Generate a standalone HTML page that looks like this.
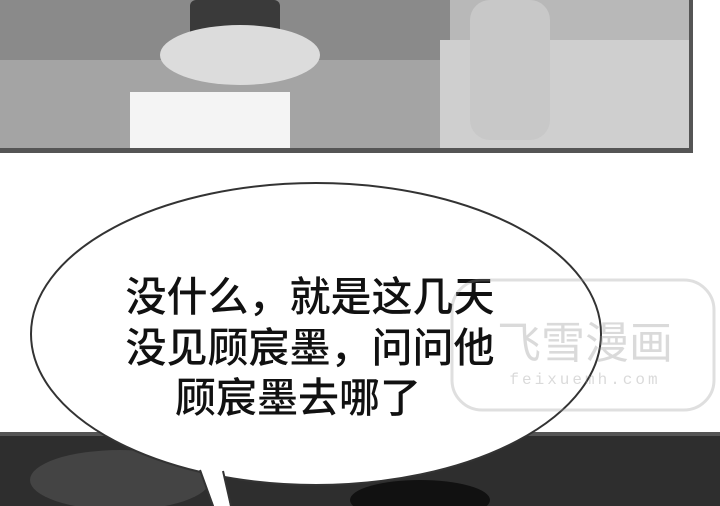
<!DOCTYPE html>
<html><head><meta charset="utf-8"><style>
html,body{margin:0;padding:0;background:#fff;}
#c{position:relative;width:720px;height:506px;overflow:hidden;background:#fff;font-family:"Liberation Sans","Noto Sans CJK SC",sans-serif;}
</style></head><body>
<div id="c">
<svg width="720" height="506" viewBox="0 0 720 506" style="position:absolute;left:0;top:0">
  <g>
    <rect x="0" y="0" width="692" height="152" fill="#b8b8b8"/>
    <rect x="0" y="0" width="450" height="70" fill="#8a8a8a"/>
    <rect x="0" y="60" width="440" height="90" fill="#a4a4a4"/>
    <rect x="440" y="40" width="252" height="110" fill="#cfcfcf"/>
    <rect x="190" y="0" width="90" height="40" rx="6" fill="#3a3a3a"/>
    <ellipse cx="240" cy="55" rx="80" ry="30" fill="#dcdcdc"/>
    <rect x="130" y="92" width="160" height="58" fill="#f4f4f4"/>
    <rect x="470" y="0" width="80" height="140" rx="20" fill="#c8c8c8"/>
    <rect x="0" y="148" width="692" height="5" fill="#555"/>
    <rect x="689" y="0" width="4" height="153" fill="#555"/>
  </g>
  <g>
    <rect x="0" y="432" width="720" height="74" fill="#2e2e2e"/>
    <rect x="0" y="432" width="720" height="4" fill="#555"/>
    <ellipse cx="120" cy="480" rx="90" ry="30" fill="#444"/>
    <ellipse cx="420" cy="500" rx="70" ry="20" fill="#111"/>
  </g>
  <g>
    <ellipse cx="316" cy="334" rx="285" ry="151" fill="#fff" stroke="#333" stroke-width="2"/>
    <path d="M200 468 L214 506 L230 506 L223 470 Z" fill="#fff"/>
    <line x1="200" y1="470" x2="213" y2="506" stroke="#333" stroke-width="2"/>
    <line x1="223" y1="471" x2="231" y2="506" stroke="#333" stroke-width="2"/>
  </g>
  <g font-family="Noto Sans CJK SC, sans-serif" font-size="41" font-weight="500" fill="#111" text-anchor="middle">
    <text x="310" y="311">没什么，就是这几天</text>
    <text x="310" y="362">没见顾宸墨，问问他</text>
    <text x="298" y="412">顾宸墨去哪了</text>
  </g>
  <g opacity="0.3">
    <rect x="452" y="280" width="262" height="130" rx="30" fill="none" stroke="#999" stroke-width="3"/>
    <text x="585" y="358" font-size="44" fill="#888" text-anchor="middle" font-family="Noto Sans CJK SC, sans-serif">飞雪漫画</text>
    <text x="585" y="384" font-size="16" fill="#888" text-anchor="middle" letter-spacing="3" font-family="Liberation Mono, monospace">feixuemh.com</text>
  </g>
</svg>
</div>
</body></html>
